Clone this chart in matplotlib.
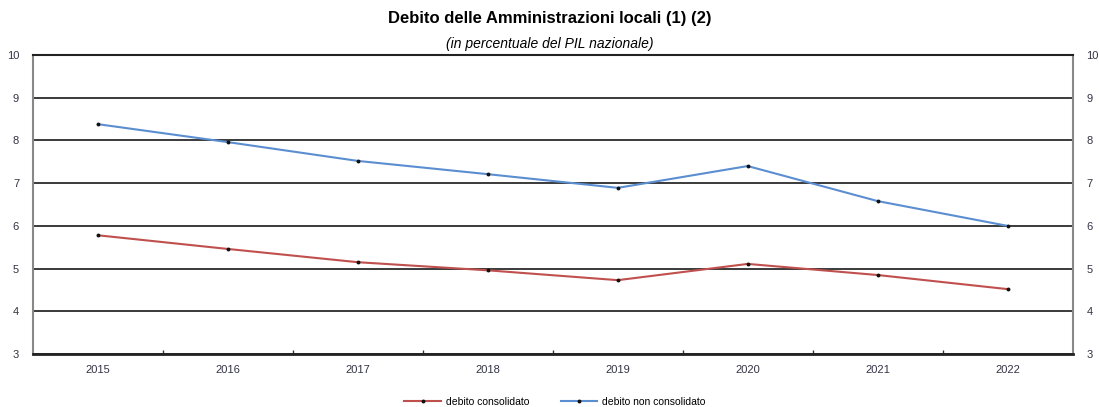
import matplotlib
matplotlib.use("Agg")
import matplotlib.pyplot as plt

years = [2015, 2016, 2017, 2018, 2019, 2020, 2021, 2022]
consolidato = [5.78, 5.46, 5.15, 4.96, 4.73, 5.11, 4.85, 4.52]
non_consolidato = [8.38, 7.96, 7.52, 7.21, 6.89, 7.40, 6.58, 6.00]
yticks = [3, 4, 5, 6, 7, 8, 9, 10]

plt.rcParams['font.family'] = ['Liberation Sans', 'DejaVu Sans']

fig = plt.figure(figsize=(10.99, 4.07), dpi=100)
ax = fig.add_axes([0.030, 0.130, 0.946, 0.735])

for y in yticks:
    ax.axhline(y, color='#3a3a3a', lw=1.4, zorder=1)

ax.plot(years, consolidato, color='#c0504d', lw=1.5, marker='o', ms=1.8,
        mfc='#111111', mec='#111111', label='debito consolidato', zorder=3)
ax.plot(years, non_consolidato, color='#5b8ed0', lw=1.5, marker='o', ms=1.8,
        mfc='#111111', mec='#111111', label='debito non consolidato', zorder=3)

ax.set_xlim(2014.5, 2022.5)
ax.set_ylim(3, 10)
ax.set_xticks(years)
ax.set_xticklabels([str(y) for y in years])
ax.set_xticks([y + 0.5 for y in years[:-1]], minor=True)
ax.tick_params(axis='x', which='major', length=0, pad=8, labelsize=8, labelcolor='#333344')
ax.tick_params(axis='x', which='minor', direction='in', length=3, width=1, color='#333333')
ax.set_yticks(yticks)
ax.tick_params(axis='y', which='major', length=0, pad=10, labelsize=8, labelcolor='#333344',
               labelright=True, right=False)

for s in ['left', 'right']:
    ax.spines[s].set_color('#888888')
    ax.spines[s].set_linewidth(1.5)
ax.spines['bottom'].set_color('#222222')
ax.spines['bottom'].set_linewidth(2)
ax.spines['top'].set_color('#222222')
ax.spines['top'].set_linewidth(1.5)

fig.text(0.5, 0.955, 'Debito delle Amministrazioni locali (1) (2)', ha='center', va='center',
         fontsize=12, fontweight='bold')
fig.text(0.5, 0.893, '(in percentuale del PIL nazionale)', ha='center', va='center',
         fontsize=10, style='italic')

fig.legend(loc='center', bbox_to_anchor=(0.505, 0.013), ncol=2, frameon=False,
           fontsize=7.5, handlelength=3.5, columnspacing=3, handletextpad=0.5)

fig.savefig('out.png', dpi=100)
